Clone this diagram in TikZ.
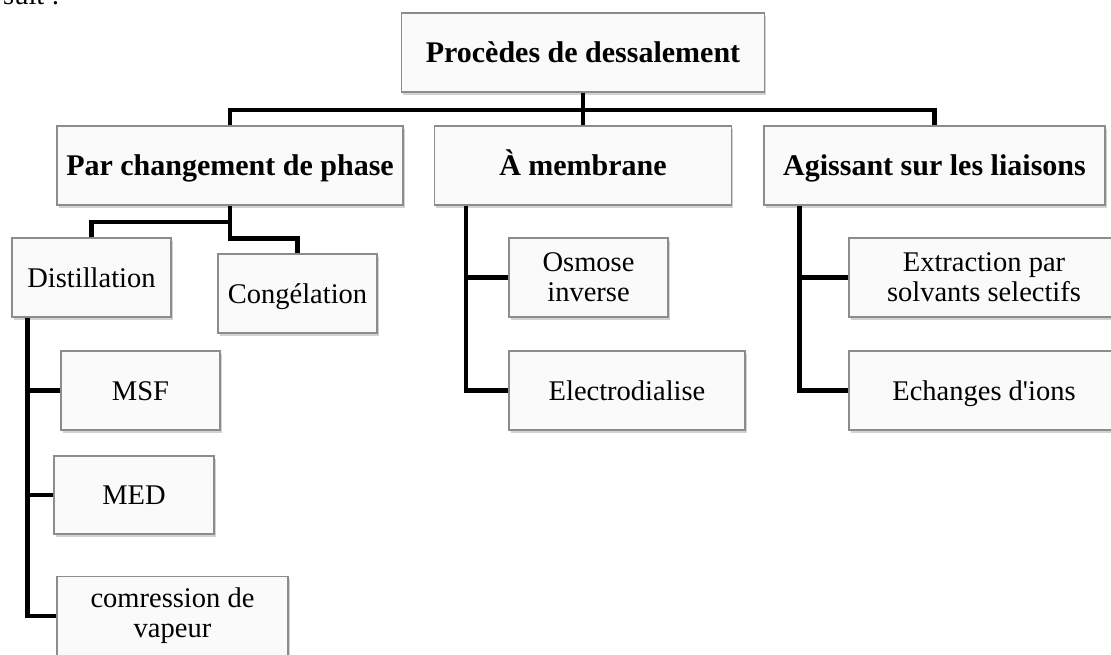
\documentclass[tikz,border=0pt]{standalone}
\usepackage{fontspec}
\setmainfont{Liberation Serif}
\usetikzlibrary{shadows,calc}

\begin{document}
\begin{tikzpicture}[x=1pt, y=-1pt,
  box/.style={draw=black!45, line width=1.2pt, fill=black!2, align=center, inner sep=0pt,
    minimum height=79pt, font=\fontsize{28.5}{30}\selectfont,
    drop shadow={shadow xshift=1.5pt, shadow yshift=-2.5pt, fill=black!35}},
  oneline/.style={box, text height=26pt, text depth=7pt},
  head/.style={box, text height=27pt, text depth=7pt, font=\fontsize{30}{32}\selectfont\bfseries},
  link/.style={line width=4.5pt}]
\path[use as bounding box] (0,0) rectangle (1111,654);
\node[anchor=base west, inner sep=0pt, font=\fontsize{28.5}{30}\selectfont] (suit) at (3,4) {suit :};

\node[head, minimum width=363pt] (root) at (583,52.5) {Procèdes de dessalement};
\node[head, minimum width=346pt] (phase) at (230,165.5) {Par changement de phase};
\node[head, minimum width=297pt] (membrane) at (583,165.5) {À membrane};
\node[head, minimum width=341pt] (liaisons) at (934.5,165.5) {Agissant sur les liaisons};

\node[oneline, minimum width=159pt] (distil) at (91.5,277.5) {Distillation};
\node[oneline, minimum width=159pt] (congel) at (297.5,293.5) {Congélation};
\node[oneline, minimum width=159pt] (msf) at (140.5,390.5) {MSF};
\node[oneline, minimum width=160pt, minimum height=78pt] (med) at (134,495) {MED};
\node[box, minimum width=231pt] (compr) at (172.5,616) {comression de\\vapeur};

\node[box, minimum width=159pt] (osmose) at (588.5,277.5) {Osmose\\inverse};
\node[oneline, minimum width=236pt] (electro) at (627,390.5) {Electrodialise};

\node[box, minimum width=270pt] (extract) at (984,277.5) {Extraction par\\solvants selectifs};
\node[oneline, minimum width=270pt] (echanges) at (984,390.5) {Echanges d\textquotesingle ions};

\coordinate (bar) at (583,110);
\coordinate (phasehub) at (230,222);
\coordinate (dtrunk) at ($(distil.south west)+(16,0)$);
\coordinate (mtrunk) at ($(membrane.south west)+(32,0)$);
\coordinate (ltrunk) at ($(liaisons.south west)+(36,0)$);

\draw[link] (root) -- (membrane);
\draw[link] (phase.north) |- (bar) -| (liaisons.north);
\draw[link] (phase.south) -- ++(0,33) -| (congel.north);
\draw[link] (distil.north) |- (phasehub);
\draw[link] (dtrunk) |- (compr.west);
\draw[link] (dtrunk |- msf.west) -- (msf.west);
\draw[link] (dtrunk |- med.west) -- (med.west);
\draw[link] (mtrunk) |- (electro.west);
\draw[link] (mtrunk |- osmose.west) -- (osmose.west);
\draw[link] (ltrunk) |- (echanges.west);
\draw[link] (ltrunk |- extract.west) -- (extract.west);
\end{tikzpicture}
\end{document}
